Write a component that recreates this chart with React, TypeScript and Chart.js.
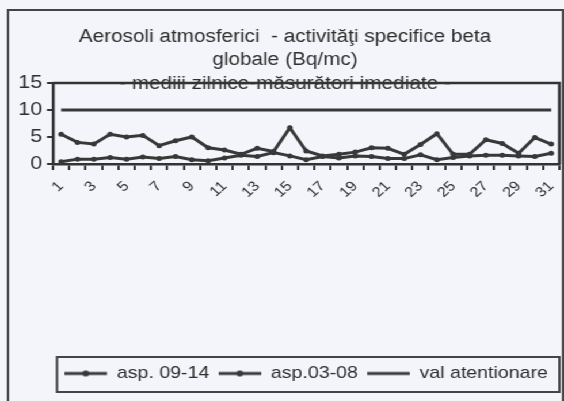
import React, { useEffect, useRef } from 'react';
import { Chart, registerables } from 'chart.js';

Chart.register(...registerables);

// ---------- data ----------
const days = ['1', '2', '3', '4', '5', '6', '7', '8', '9', '10', '11', '12', '13', '14', '15', '16',
  '17', '18', '19', '20', '21', '22', '23', '24', '25', '26', '27', '28', '29', '30', '31'];

const asp0914 = [5.5, 4.0, 3.7, 5.5, 5.0, 5.3, 3.4, 4.3, 5.0, 3.0, 2.6, 1.8, 2.9, 2.3, 6.7, 2.4,
  1.5, 1.8, 2.2, 3.0, 2.9, 1.8, 3.6, 5.6, 1.8, 1.8, 4.5, 3.8, 2.0, 4.9, 3.7];

const asp0308 = [0.4, 0.9, 0.9, 1.2, 0.9, 1.3, 1.0, 1.4, 0.8, 0.6, 1.1, 1.6, 1.4, 2.1, 1.5, 0.8,
  1.4, 1.1, 1.5, 1.4, 1.0, 1.0, 1.7, 0.8, 1.2, 1.5, 1.6, 1.6, 1.5, 1.4, 2.0];

const valAtentionare = [10, 10, 10, 10, 10, 10, 10, 10, 10, 10, 10, 10, 10, 10, 10, 10,
  10, 10, 10, 10, 10, 10, 10, 10, 10, 10, 10, 10, 10, 10, 10];

const seriesNames = ['asp. 09-14', 'asp.03-08', 'val atentionare'];

const yMin = 0;
const yMax = 15;
const yStep = 5;

const titleLines = [
  'Aerosoli atmosferici  - activităţi specifice beta',
  'globale (Bq/mc)',
  '- mediii zilnice-măsurători imediate -',
];

// ---------- style ----------
const W = 490;
const H = 401;
const S = 564 / W; // horizontal stretch of the picture
const BG = '#f3f5fa';
const LINE = '#383838';
const AXIS = '#333333';
const TEXT = '#2e2e2e';
const FONT = '"Liberation Sans", Arial, Helvetica, sans-serif';

function legendSample(withDot: boolean): HTMLCanvasElement {
  const c = document.createElement('canvas');
  c.width = 37;
  c.height = 10;
  const g = c.getContext('2d')!;
  g.strokeStyle = LINE;
  g.lineWidth = 3;
  g.beginPath();
  g.moveTo(0, 5);
  g.lineTo(37, 5);
  g.stroke();
  if (withDot) {
    g.fillStyle = LINE;
    g.beginPath();
    g.arc(18.5, 5, 3, 0, Math.PI * 2);
    g.fill();
  }
  return c;
}

const decor = {
  id: 'decor',
  beforeDraw(chart: any) {
    const ctx = chart.ctx;
    ctx.save();
    ctx.fillStyle = BG;
    ctx.fillRect(0, 0, chart.width, chart.height);
    ctx.strokeStyle = '#444';
    ctx.lineWidth = 2;
    ctx.strokeRect(8 / S, 10, (563 - 8) / S, 460);
    ctx.restore();
  },
  afterDraw(chart: any) {
    const ctx = chart.ctx;
    const a = chart.chartArea;
    ctx.save();
    // title
    ctx.fillStyle = TEXT;
    ctx.font = `18px ${FONT}`;
    ctx.textAlign = 'center';
    ctx.textBaseline = 'middle';
    const cx = 285 / S;
    const ys = [37, 60, 84];
    titleLines.forEach((t, i) => ctx.fillText(t, cx, ys[i]));
    // plot-area box (top & right)
    ctx.strokeStyle = AXIS;
    ctx.lineWidth = 2.5;
    ctx.beginPath();
    ctx.moveTo(a.left, a.top);
    ctx.lineTo(a.right, a.top);
    ctx.lineTo(a.right, a.bottom);
    ctx.stroke();
    // legend frame
    const lg = chart.legend;
    if (lg) {
      ctx.lineWidth = 2;
      ctx.strokeStyle = '#444';
      ctx.strokeRect(lg.left + 4 / S, lg.top, lg.right - lg.left - 4 / S, lg.bottom - lg.top);
    }
    ctx.restore();
  },
};

export default function App() {
  const ref = useRef<HTMLCanvasElement>(null);

  useEffect(() => {
    const canvas = ref.current!;
    const samples = [legendSample(true), legendSample(true), legendSample(false)];
    const chart = new Chart(canvas, {
      type: 'line',
      data: {
        labels: days,
        datasets: [
          {
            label: seriesNames[0],
            data: asp0914,
            borderColor: LINE,
            backgroundColor: LINE,
            borderWidth: 3,
            pointRadius: 2.5,
            pointBorderWidth: 0,
            pointBackgroundColor: LINE,
            tension: 0,
          },
          {
            label: seriesNames[1],
            data: asp0308,
            borderColor: LINE,
            backgroundColor: LINE,
            borderWidth: 3,
            pointRadius: 2.5,
            pointBorderWidth: 0,
            pointBackgroundColor: LINE,
            tension: 0,
          },
          {
            label: seriesNames[2],
            data: valAtentionare,
            borderColor: LINE,
            backgroundColor: LINE,
            borderWidth: 3,
            pointRadius: 0,
            tension: 0,
          },
        ],
      },
      options: {
        responsive: false,
        animation: false,
        devicePixelRatio: 1,
        layout: { padding: { left: 0, right: W - 561 / S, top: 83, bottom: 9 } },
        plugins: {
          title: { display: false },
          tooltip: { enabled: false },
          legend: {
            position: 'bottom',
            fullSize: false,
            labels: {
              usePointStyle: true,
              pointStyleWidth: 37,
              color: TEXT,
              padding: 8,
              font: { size: 17, family: FONT },
              generateLabels: (c: any) => {
                const items = (Chart.defaults as any).plugins.legend.labels.generateLabels(c);
                return items.map((it: any, i: number) => ({ ...it, pointStyle: samples[i], fontColor: TEXT }));
              },
            },
          },
        },
        scales: {
          x: {
            type: 'category',
            offset: true,
            grid: { offset: true, drawOnChartArea: false, drawTicks: true, tickLength: 6, color: AXIS, lineWidth: 2 },
            border: { display: true, color: AXIS, width: 2.5 },
            ticks: {
              autoSkip: false,
              maxRotation: 45,
              minRotation: 45,
              color: TEXT,
              padding: 8,
              font: { size: 14, family: FONT },
              callback: (_v: any, i: number) => (i % 2 === 0 ? days[i] : ''),
            },
            afterFit: (scale: any) => {
              scale.height = 193;
              scale.paddingLeft = 0;
              scale.paddingRight = 0;
            },
          },
          y: {
            min: yMin,
            max: yMax,
            ticks: { stepSize: yStep, color: TEXT, padding: 4, font: { size: 19, family: FONT } },
            grid: { drawOnChartArea: false, drawTicks: true, tickLength: 6 / S, color: AXIS, lineWidth: 2 },
            border: { display: true, color: AXIS, width: 2.5 },
            afterFit: (scale: any) => {
              scale.width = 53 / S;
            },
          },
        },
      },
      plugins: [decor],
    } as any);
    return () => chart.destroy();
  }, []);

  return (
    <div
      style={{
        position: 'fixed',
        left: 0,
        top: 0,
        width: W,
        height: H,
        transform: `scaleX(${S})`,
        transformOrigin: '0 0',
        background: BG,
      }}
    >
      <canvas ref={ref} width={W} height={H} style={{ display: 'block' }} />
    </div>
  );
}
